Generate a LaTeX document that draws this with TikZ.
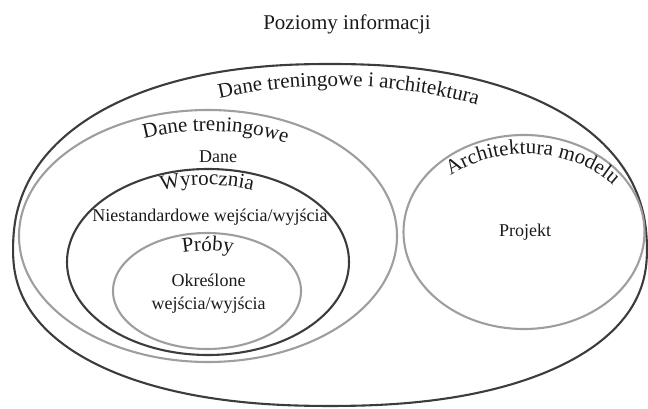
\documentclass[tikz,border=0pt]{standalone}
\usepackage{fontspec}
\setmainfont{Liberation Serif}
\usetikzlibrary{decorations.text}
\definecolor{ringdark}{HTML}{3C3C3C}
\definecolor{ringlight}{HTML}{9E9E9E}
\definecolor{ink}{HTML}{1A1A1A}
\tikzset{
  ringd/.style={draw=ringdark, line width=2.1pt},
  ringl/.style={draw=ringlight, line width=2.1pt},
  plain/.style={text=ink, font=\fontsize{18}{21}\selectfont, inner sep=0pt, anchor=base},
  arclabel/.style={decorate, decoration={text along path, text align=center,
      text color=ink, text={|\fontsize{21}{25}\selectfont|#1}}},
}
\begin{document}
\begin{tikzpicture}[x=1pt,y=1pt]
\useasboundingbox (0,0) rectangle (648,408);

% outer level: a slightly squared oval, fuller at the bottom
\draw[ringd]
  plot[domain=0.5:179.5, samples=120, variable=\t]
    ({330+317*cos(\t)/abs(cos(\t))^0.111}, {158+186*sin(\t)^0.889})
  -- plot[domain=180.5:359.5, samples=120, variable=\t]
    ({330+317*cos(\t)/abs(cos(\t))^0.111}, {158+156*sin(\t)/abs(sin(\t))^0.111})
  -- cycle;

% inner levels
\draw[ringl] (208,172) ellipse [x radius=189pt, y radius=126pt];
\draw[ringd] (208,146) ellipse [x radius=141pt, y radius=93pt];
\draw[ringl] (207,117) ellipse [x radius=94pt, y radius=58pt];
\draw[ringl] (524,176) ellipse [x radius=120.5pt, y radius=97pt];

% curved ring titles
\path[arclabel={Dane treningowe i architektura}]
  (335,173) ++(136.4:290pt and 149pt)
  arc[start angle=136.4, end angle=36.4, x radius=290pt, y radius=149pt];
\path[arclabel={Dane treningowe}]
  (208,172) ++(131.9:168pt and 105pt)
  arc[start angle=131.9, end angle=41.9, x radius=168pt, y radius=105pt];
\path[arclabel={Wyrocznia}]
  (208,146) ++(130.5:125pt and 77pt)
  arc[start angle=130.5, end angle=50.5, x radius=125pt, y radius=77pt];
\path[arclabel={Próby}]
  (207,117) ++(129.2:76pt and 40pt)
  arc[start angle=129.2, end angle=49.2, x radius=76pt, y radius=40pt];
\path[arclabel={Architektura modelu}]
  (526,176) ++(145:108pt and 78pt)
  arc[start angle=145, end angle=25, x radius=108pt, y radius=78pt];

% straight labels
\node[plain, font=\fontsize{21}{25}\selectfont] (title) at (347,378) {Poziomy informacji};
\node[plain] (dane) at (218,246) {Dane};
\node[plain] (niestd) at (210,186.3) {Niestandardowe wejścia/wyjścia};
\node[plain] (okr) at (208.5,121.3) {Określone};
\node[plain] (we) at (208.5,99) {wejścia/wyjścia};
\node[plain] (proj) at (525,172) {Projekt};
\end{tikzpicture}
\end{document}
